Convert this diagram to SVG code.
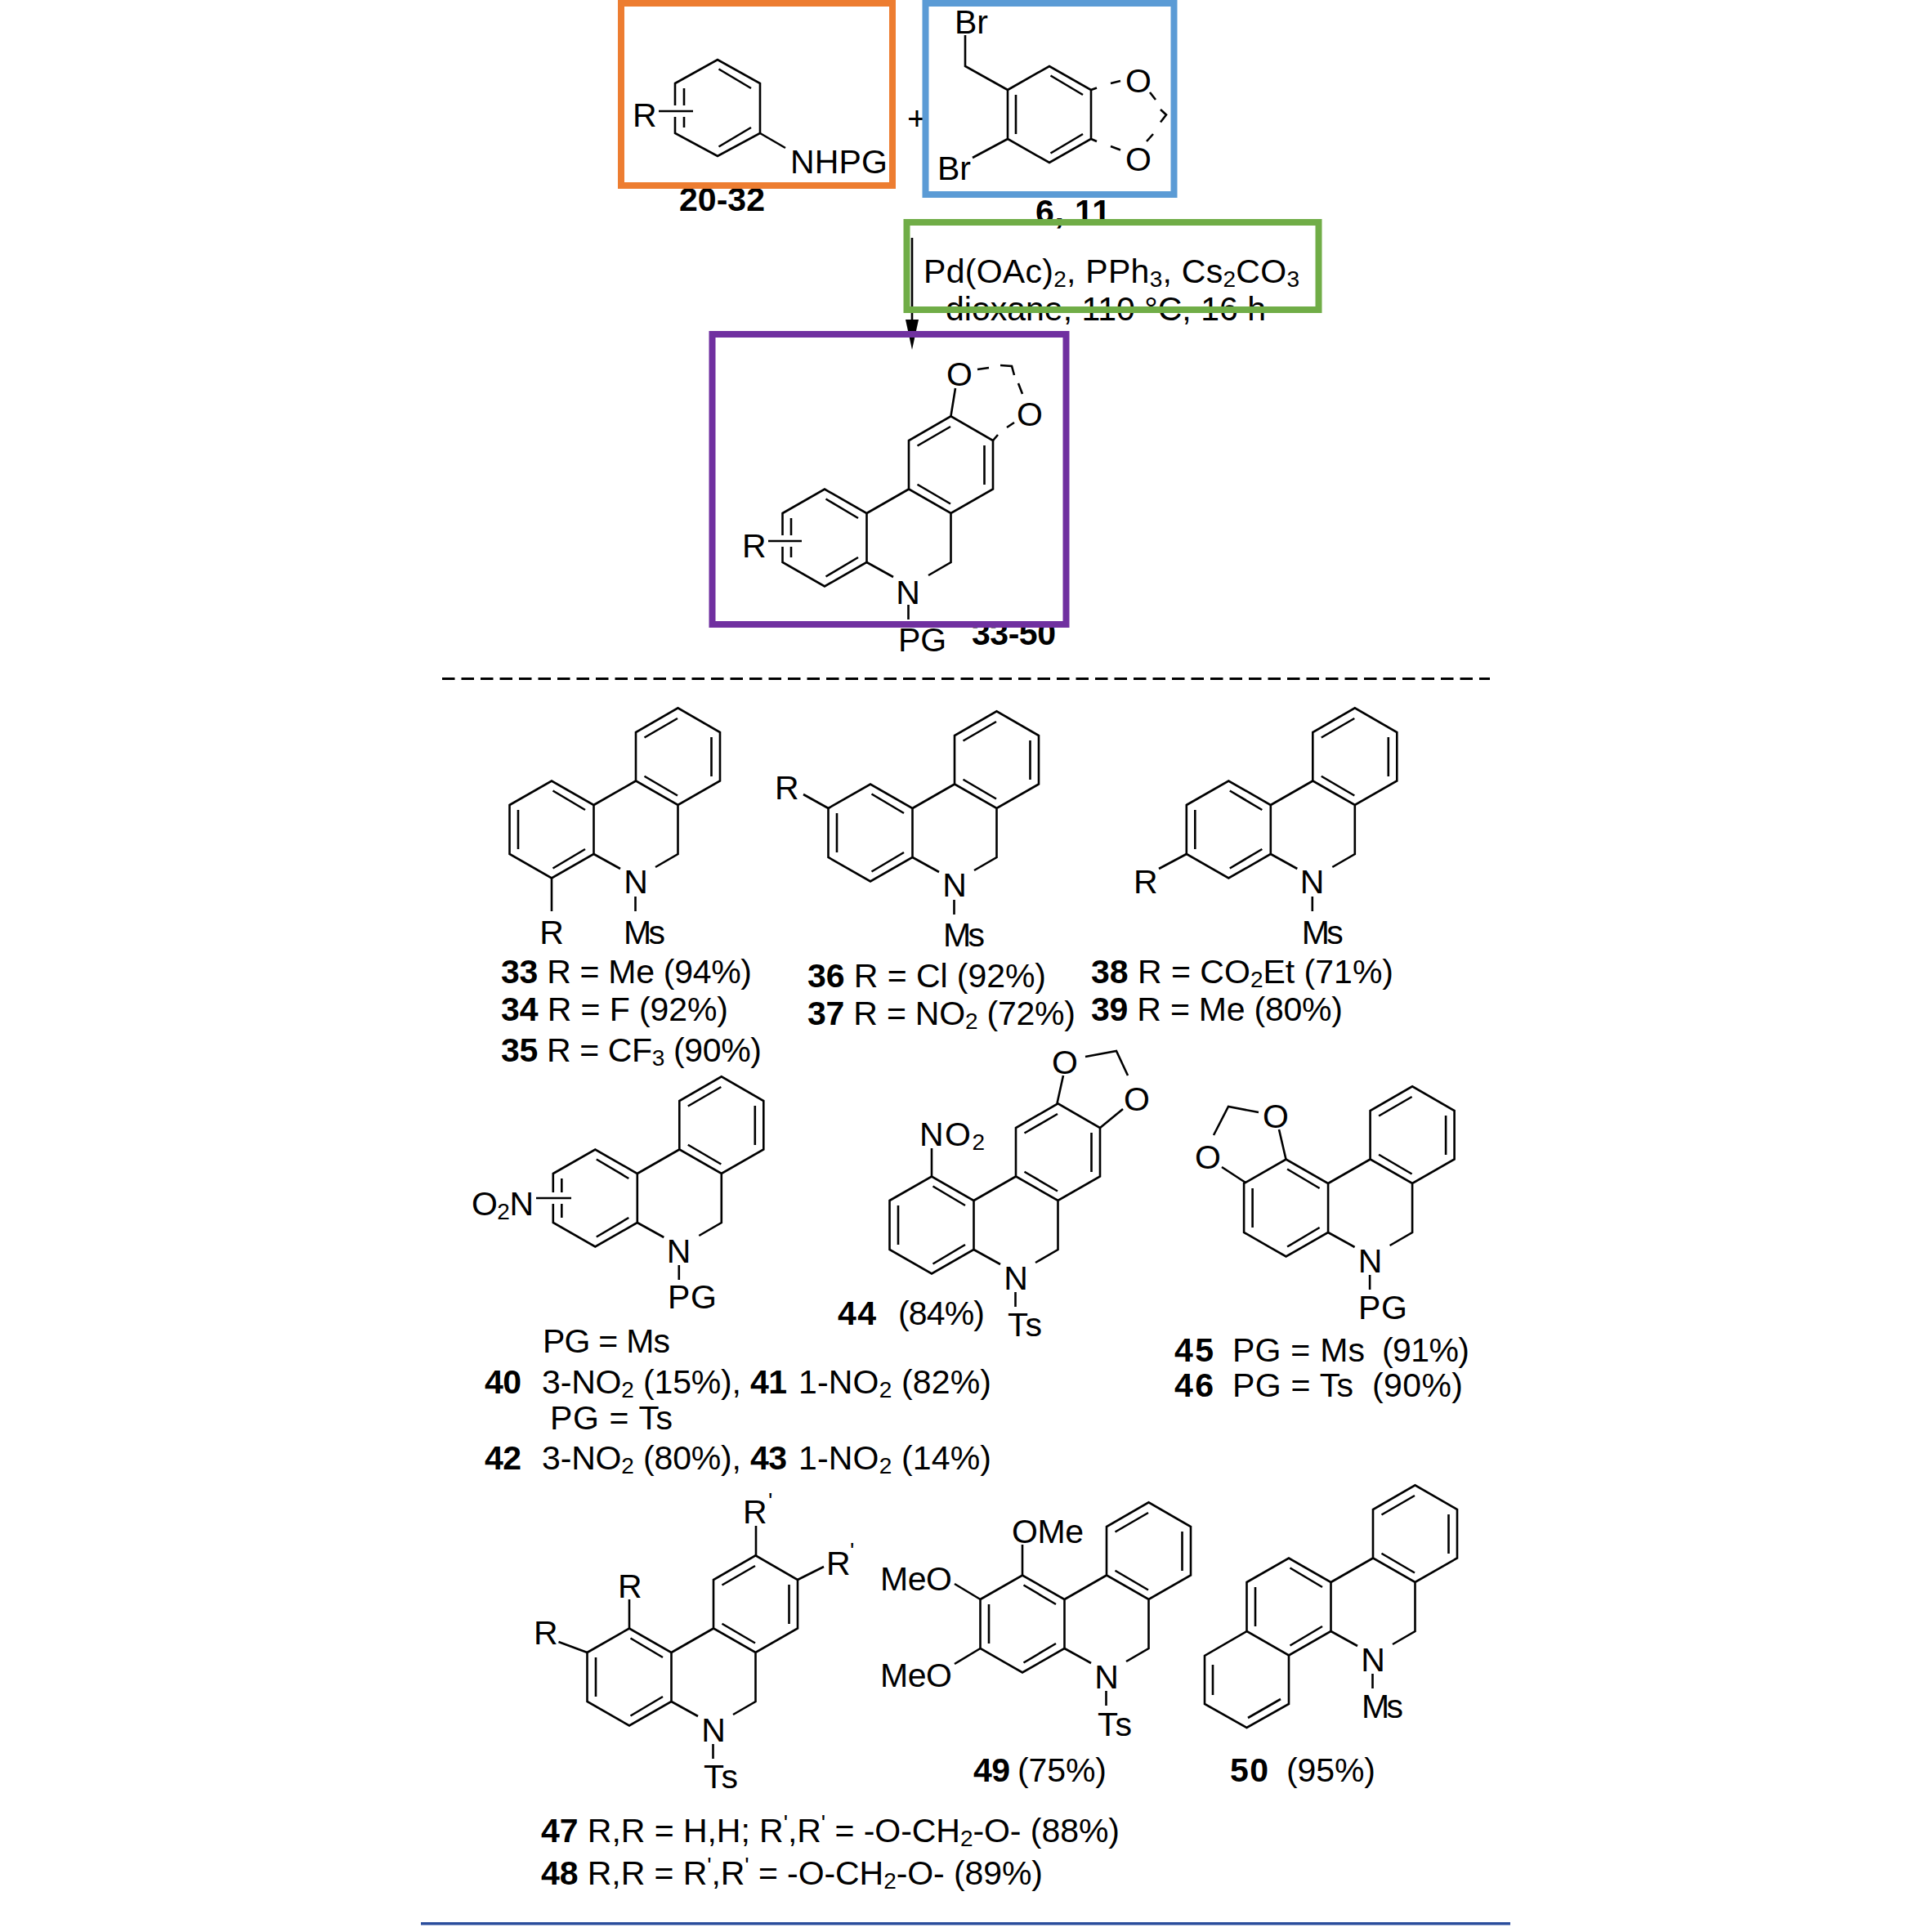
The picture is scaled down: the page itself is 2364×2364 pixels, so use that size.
<svg xmlns="http://www.w3.org/2000/svg" width="2364" height="2364" viewBox="0 0 2364 2364">
<style>
text{font-family:"Liberation Sans",Arial,sans-serif;font-size:41px;fill:#000}
.b{font-weight:700}
.m{text-anchor:middle}
.s{font-size:28px}
.p{font-size:28px}
.l{fill:none;stroke:#000;stroke-width:2.6}
.box{fill:none;stroke-width:8}
</style>
<defs>
<g id="phen">
<path class="l" d="M-51.5,-30L0,-59.5L51.5,-30V30L0,59.5L-51.5,30ZM103,-59.5V-119L154.5,-148.75L206,-119V-59.5L154.5,-30ZM51.5,-30L103,-59.5M154.5,-30V30L127,46M51.5,30L84,48M102.5,82V100M1.5,-47.5L41,-24M41,24L1.5,47.5M-41,-24V24M154,-136L113.5,-112.5M195.5,-113V-65M113.5,-65.25L154,-41.5"/>
</g>
</defs>
<rect width="2364" height="2364" fill="#fff"/>

<g id="connectors">
<path class="l" d="M1116,291V395"/>
<polygon points="1108,391 1124,391 1116,428" fill="#000"/>
<path d="M541,830.5H1823" fill="none" stroke="#000" stroke-width="3" stroke-dasharray="15.5 8"/>
<path d="M515,2353.7H1848" fill="none" stroke="#2A4D9C" stroke-width="3.4"/>
</g>

<g id="reactant-aniline">
<path class="l" d="M826,102L878,73L930,102V163L878,191L826,163ZM879.5,84.5L919,108M919,156L879.5,179.5M837,108V156"/>
<rect x="820" y="129" width="22" height="14" fill="#fff"/>
<path class="l" d="M806,136H848M930,163L961,181"/>
<text x="774" y="155">R</text>
<text x="967" y="212" textLength="119">NHPG</text>
<text class="b" x="831" y="258" textLength="105">20-32</text>
</g>
<text x="1110" y="159">+</text>

<g id="reactant-bromide">
<path class="l" d="M1233,110L1284,81L1335,110V170L1284,199L1233,170ZM1285.5,92.5L1325,116M1325,164L1285.5,187.5M1243,116V164M1181,43V81L1233,110M1233,170L1190,193M1335,110L1342,107.5M1359,102L1371,99M1335,170L1342,173M1359,179L1371,183.5M1407,113L1414,122M1420,134L1427,140.5L1420,149.5M1411,164L1403,173"/>
<text x="1168" y="41">Br</text>
<text x="1147" y="220">Br</text>
<text class="m" x="1393" y="113">O</text>
<text class="m" x="1393" y="209">O</text>
<text class="b" x="1267" y="273" textLength="92">6, 11</text>
</g>

<g id="conditions">
<text x="1130" y="346" textLength="460">Pd(OAc)<tspan class="s" dy="5">2</tspan><tspan dy="-5">, PPh</tspan><tspan class="s" dy="5">3</tspan><tspan dy="-5">, Cs</tspan><tspan class="s" dy="5">2</tspan><tspan dy="-5">CO</tspan><tspan class="s" dy="5">3</tspan></text>
<text x="1157" y="392" textLength="392">dioxane, 110 °C, 16 h</text>
</g>

<g id="product-general">
<use href="#phen" x="1009" y="658"/>
<rect x="952" y="655" width="24" height="14" fill="#fff"/>
<path class="l" d="M940,662H981M1163.5,509L1169,475M1215,539L1221,532M1232,523L1241,517M1196,452L1210,450M1224,447L1238,448L1241,459M1246,469L1251,482"/>
<text class="m" x="1174" y="472">O</text>
<text class="m" x="1260" y="521">O</text>
<text x="908" y="682">R</text>
<text class="m" x="1111" y="739">N</text>
<text x="1099" y="797">PG</text>
<text class="b" x="1189" y="789" textLength="103">33-50</text>
</g>

<g id="compound-33-35">
<use href="#phen" x="675" y="1015"/>
<path class="l" d="M675,1074V1115"/>
<text class="m" x="778" y="1093">N</text>
<text x="763" y="1155" textLength="51">Ms</text>
<text class="m" x="675" y="1155">R</text>
<text x="613" y="1203" textLength="307"><tspan class="b">33</tspan> R = Me (94%)</text>
<text x="613" y="1249" textLength="278"><tspan class="b">34</tspan> R = F (92%)</text>
<text x="613" y="1299" textLength="319"><tspan class="b">35</tspan> R = CF<tspan class="s" dy="5">3</tspan><tspan dy="-5"> (90%)</tspan></text>
</g>

<g id="compound-36-37">
<use href="#phen" x="1065" y="1019"/>
<path class="l" d="M983,972L1013.5,989"/>
<text class="m" x="1168" y="1097">N</text>
<text x="1154" y="1158" textLength="51">Ms</text>
<text x="948" y="978">R</text>
<text x="988" y="1208" textLength="292"><tspan class="b">36</tspan> R = Cl (92%)</text>
<text x="988" y="1254" textLength="328"><tspan class="b">37</tspan> R = NO<tspan class="s" dy="5">2</tspan><tspan dy="-5"> (72%)</tspan></text>
</g>

<g id="compound-38-39">
<use href="#phen" x="1503.3" y="1015"/>
<path class="l" d="M1418,1063L1451.8,1045"/>
<text class="m" x="1605.5" y="1093">N</text>
<text x="1592.7" y="1155" textLength="51">Ms</text>
<text x="1387" y="1093">R</text>
<text x="1335" y="1203" textLength="370"><tspan class="b">38</tspan> R = CO<tspan class="s" dy="5">2</tspan><tspan dy="-5">Et (71%)</tspan></text>
<text x="1335" y="1249" textLength="308"><tspan class="b">39</tspan> R = Me (80%)</text>
</g>

<g id="compound-40-43">
<use href="#phen" x="728.3" y="1466"/>
<rect x="670" y="1459" width="24" height="14" fill="#fff"/>
<path class="l" d="M656,1466H699"/>
<text class="m" x="830.5" y="1545">N</text>
<text x="817" y="1601" textLength="60">PG</text>
<text x="577" y="1487" textLength="76">O<tspan class="s" dy="5">2</tspan><tspan dy="-5">N</tspan></text>
<text x="664" y="1655" textLength="156">PG = Ms</text>
<text class="b" x="593" y="1705" textLength="45">40</text>
<text x="663" y="1705" textLength="244">3-NO<tspan class="s" dy="5">2</tspan><tspan dy="-5"> (15%),</tspan></text>
<text class="b" x="918" y="1705" textLength="45">41</text>
<text x="977" y="1705" textLength="236">1-NO<tspan class="s" dy="5">2</tspan><tspan dy="-5"> (82%)</tspan></text>
<text x="673" y="1749" textLength="150">PG = Ts</text>
<text class="b" x="593" y="1798" textLength="45">42</text>
<text x="663" y="1798" textLength="244">3-NO<tspan class="s" dy="5">2</tspan><tspan dy="-5"> (80%),</tspan></text>
<text class="b" x="918" y="1798" textLength="45">43</text>
<text x="977" y="1798" textLength="236">1-NO<tspan class="s" dy="5">2</tspan><tspan dy="-5"> (14%)</tspan></text>
</g>

<g id="compound-44">
<use href="#phen" x="1140" y="1499"/>
<path class="l" d="M1140,1405V1439.5M1293.5,1350L1301,1316M1346,1380L1374,1357M1328,1293L1366,1286L1380,1316"/>
<text class="m" x="1243" y="1578">N</text>
<text x="1233" y="1635" textLength="42">Ts</text>
<text x="1125" y="1402" textLength="80">NO<tspan class="s" dy="5">2</tspan></text>
<text class="m" x="1303" y="1314">O</text>
<text class="m" x="1391" y="1359">O</text>
<text class="b" x="1025" y="1621" textLength="47">44</text>
<text x="1099" y="1621" textLength="106">(84%)</text>
</g>

<g id="compound-45-46">
<use href="#phen" x="1573.6" y="1478"/>
<path class="l" d="M1573.6,1419L1565,1382M1524,1447L1495,1428M1540,1361L1503,1354L1485,1389"/>
<text class="m" x="1676.5" y="1557">N</text>
<text x="1662" y="1614" textLength="60">PG</text>
<text class="m" x="1561" y="1380">O</text>
<text class="m" x="1478" y="1430">O</text>
<text class="b" x="1437" y="1666" textLength="48">45</text>
<text x="1508" y="1666" textLength="162">PG = Ms</text>
<text x="1691" y="1666" textLength="107">(91%)</text>
<text class="b" x="1437" y="1709" textLength="48">46</text>
<text x="1508" y="1709" textLength="148">PG = Ts</text>
<text x="1679" y="1709" textLength="111">(90%)</text>
</g>

<g id="compound-47-48">
<use href="#phen" x="770" y="2052"/>
<path class="l" d="M925,1867V1903M976,1933L1008,1917M770,1957V1992.5M683.5,2009L718.5,2022"/>
<text class="m" x="873" y="2131">N</text>
<text x="861" y="2188" textLength="42">Ts</text>
<text x="909" y="1864">R</text>
<text class="p" x="940" y="1846">'</text>
<text x="1011" y="1927">R</text>
<text class="p" x="1040" y="1907">'</text>
<text x="756" y="1955">R</text>
<text x="653" y="2012">R</text>
<text x="662" y="2254" textLength="708"><tspan class="b">47</tspan> R,R = H,H; R<tspan class="p" dy="-14">'</tspan><tspan dy="14">,R</tspan><tspan class="p" dy="-14">'</tspan><tspan dy="14"> = -O-CH</tspan><tspan class="s" dy="5">2</tspan><tspan dy="-5">-O- (88%)</tspan></text>
<text x="662" y="2306" textLength="614"><tspan class="b">48</tspan> R,R = R<tspan class="p" dy="-14">'</tspan><tspan dy="14">,R</tspan><tspan class="p" dy="-14">'</tspan><tspan dy="14"> = -O-CH</tspan><tspan class="s" dy="5">2</tspan><tspan dy="-5">-O- (89%)</tspan></text>
</g>

<g id="compound-49">
<use href="#phen" x="1251" y="1987"/>
<path class="l" d="M1251,1890V1928M1168,1938L1199.5,1957M1168,2036L1199.5,2017"/>
<text class="m" x="1354" y="2066">N</text>
<text x="1343" y="2124" textLength="42">Ts</text>
<text x="1238" y="1888" textLength="88">OMe</text>
<text x="1077" y="1946" textLength="88">MeO</text>
<text x="1077" y="2064" textLength="88">MeO</text>
<text class="b" x="1191" y="2180" textLength="45">49</text>
<text x="1245" y="2180" textLength="109">(75%)</text>
</g>

<g id="compound-50">
<use href="#phen" x="1577" y="1966"/>
<path class="l" d="M1577,2026V2085L1525.5,2114L1474,2085V2026L1525.5,1996M1484,2037V2074M1527,2102L1567,2079"/>
<text class="m" x="1680" y="2045">N</text>
<text x="1666" y="2102" textLength="51">Ms</text>
<text class="b" x="1505" y="2180" textLength="47">50</text>
<text x="1574" y="2180" textLength="109">(95%)</text>
</g>

<g id="boxes">
<rect class="box" x="760" y="4" width="332" height="223" stroke="#ED7D31"/>
<rect class="box" x="1132.5" y="4" width="304" height="234" stroke="#5B9BD5"/>
<rect class="box" x="1109.5" y="272" width="504" height="107" stroke="#70AD47"/>
<rect class="box" x="871.5" y="409" width="433" height="355" stroke="#7030A0"/>
</g>
</svg>
